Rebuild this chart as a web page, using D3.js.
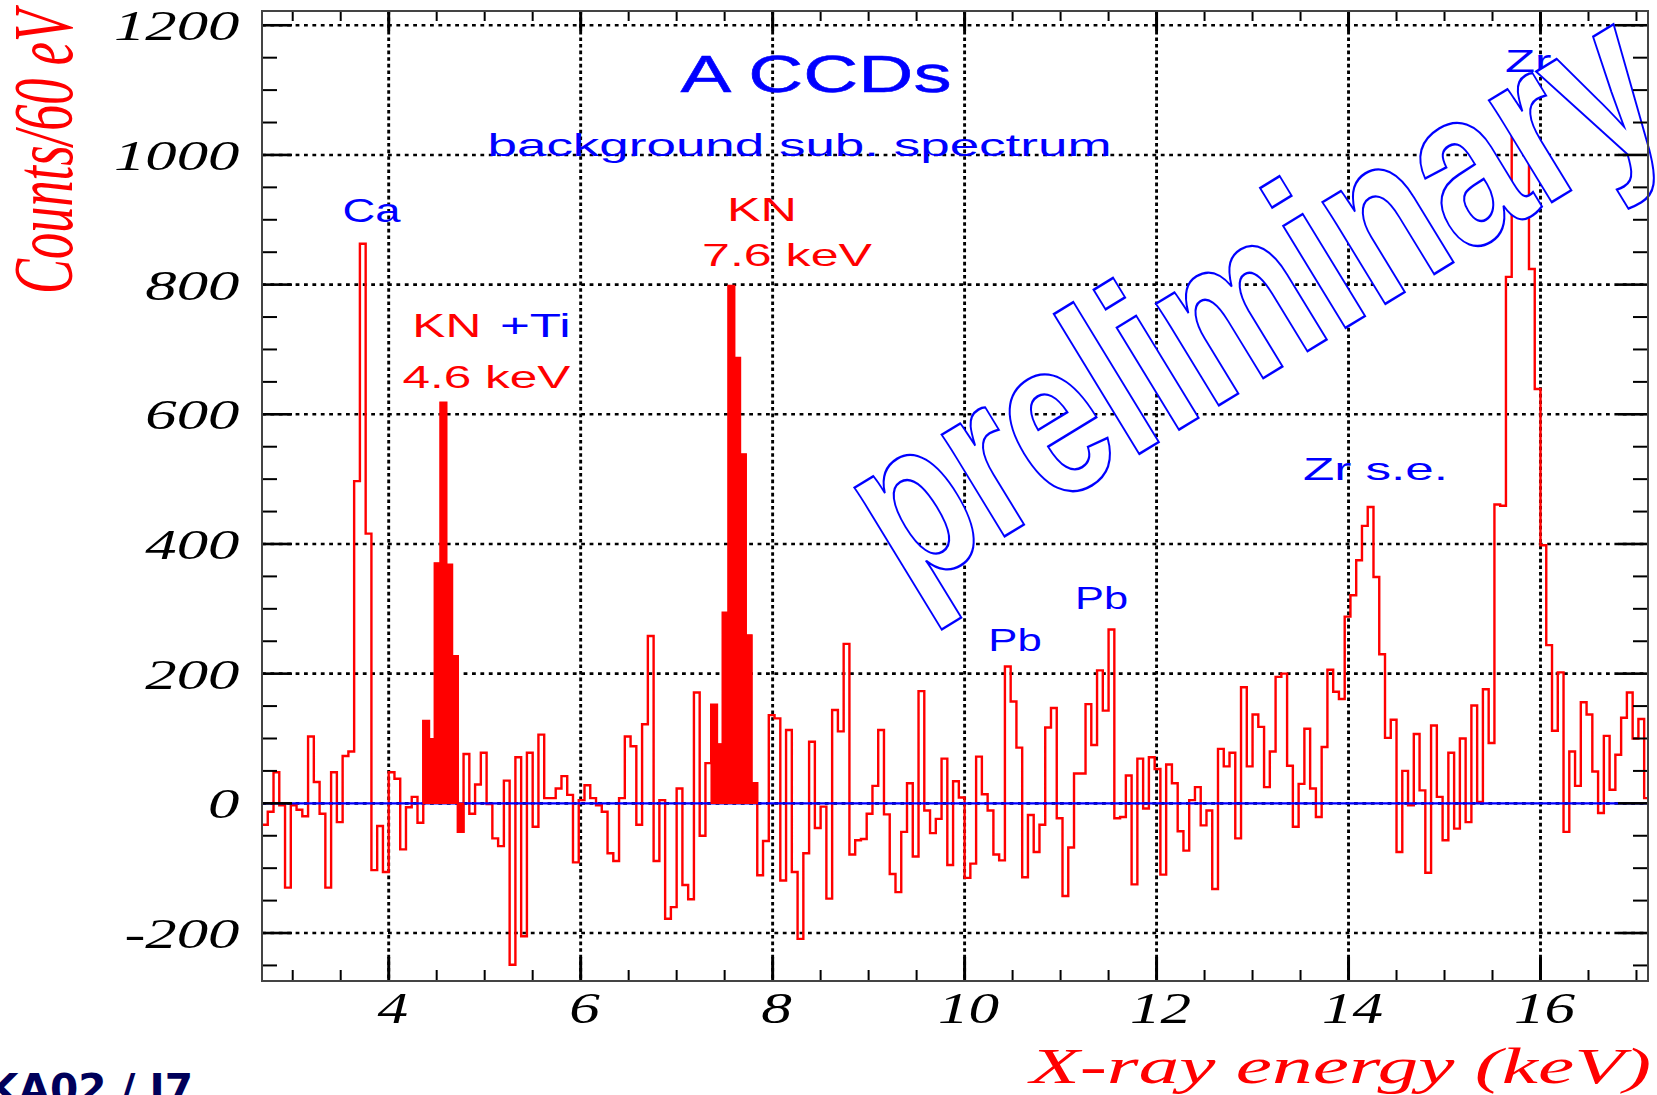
<!DOCTYPE html>
<html><head><meta charset="utf-8">
<script src="https://cdn.jsdelivr.net/npm/d3@7/dist/d3.min.js"></script>
<style>html,body{margin:0;padding:0;background:#fff;overflow:hidden}</style>
</head><body>
<svg id="chart" width="1657" height="1095"></svg>
<script>
// ---- data ----
const binStart = 2.68;   // keV, left edge of first bin
const binWidth = 0.06;   // keV (60 eV)
const counts = [
  -33, -13, 48, -3, -130, -3, -10, -20, 103, 33,
  -16, -130, 48, -29, 73, 80, 497, 863, 416, -103,
  -35, -106, 48, 38, -71, -6, 10, -30, 127, 99,
  370, 618, 368, 227, -44, 76, -16, 29, 78, -1,
  -54, -66, 35, -249, 71, -205, 78, -36, 106, 8,
  8, 23, 42, 13, -91, 5, 28, 8, -3, -13,
  -77, -89, 8, 103, 88, -33, 122, 258, -89, 5,
  -178, -160, 23, -126, -148, 171, -50, 62, 152, 91,
  294, 798, 687, 538, 259, 31, -111, -58, 136, 131,
  -119, 113, -106, -209, -77, 95, -38, -5, -147, 144,
  111, 246, -79, -57, -55, -16, 27, 113, -17, -109,
  -137, -44, 31, -82, 173, -11, -46, -24, 69, -95,
  34, 9, -115, -93, 72, 14, -11, -79, -88, 211,
  157, 86, -114, -18, -75, -33, 117, 147, -23, -143,
  -68, 46, 46, 153, 90, 205, 143, 268, -23, -21,
  43, -125, 69, -8, 71, 53, -110, 60, 31, -43,
  -73, 5, 25, -34, -11, -132, 84, 57, 78, -54,
  179, 57, 137, 118, 25, 80, 195, 200, 58, -36,
  30, 115, 23, -21, 87, 206, 172, 161, 288, 321,
  375, 428, 457, 349, 230, 101, 129, -75, 50, -3,
  107, 20, -107, 120, 10, -57, 78, -39, 100, -29,
  151, 2, 176, 93, 461, 459, 812, 1035, 1050, 1020,
  824, 639, 398, 244, 112, 202, -44, 80, 27, 156,
  137, 49, -15, 104, 21, 75, 132, 171, 100, 130,
  8
];
const filledRanges = [[28, 34], [78, 85]];   // KN+Ti 4.6 keV and KN 7.6 keV bins
const xTickValues = [4, 6, 8, 10, 12, 14, 16];
const yTickValues = [-200, 0, 200, 400, 600, 800, 1000, 1200];
const xDomain = [2.68, 17.12];
const yDomain = [-274, 1222];

const labelTexts = [
  {t: "A CCDs", c: "blue"},
  {t: "background sub. spectrum", c: "blue"},
  {t: "Ca", c: "blue"},
  {t: "KN", c: "red"},
  {t: "7.6 keV", c: "red"},
  {t: "KN", c: "red"},
  {t: "+Ti", c: "blue"},
  {t: "4.6 keV", c: "red"},
  {t: "Pb", c: "blue"},
  {t: "Pb", c: "blue"},
  {t: "Zr s.e.", c: "blue"},
  {t: "Zr", c: "blue"}
];
// positions (left x, baseline y, font size, text length)
const labelPos = [
  [680.5, 92, 52, 271],
  [487.5, 155.5, 30.5, 624],
  [342.5, 221.7, 32.5, 58],
  [727, 221, 33, 70],
  [702, 266, 32, 170],
  [412.3, 337.3, 33, 69],
  [500, 337.3, 33, 70.6],
  [402.4, 388.3, 31, 168],
  [988.3, 650.7, 31.5, 53.4],
  [1075, 609.3, 31.5, 53],
  [1303, 480.4, 32, 145],
  [1505, 71.7, 31.5, 46.5]
];

// ---- layout ----
const L = 262, R = 1648, T = 11, B = 981;
const svg = d3.select("#chart");
const x = d3.scaleLinear().domain(xDomain).range([L, R]);
const y = d3.scaleLinear().domain(yDomain).range([B, T]);

svg.append("defs").append("clipPath").attr("id", "plotclip")
  .append("rect").attr("x", L).attr("y", T).attr("width", R - L).attr("height", B - T);

// grid
const grid = svg.append("g");
grid.selectAll("line.v").data(xTickValues).enter().append("line")
  .attr("x1", d => x(d)).attr("x2", d => x(d)).attr("y1", T).attr("y2", B)
  .attr("stroke", "#000").attr("stroke-width", 2.9).attr("stroke-dasharray", "3.6,3");
grid.selectAll("line.h").data(yTickValues).enter().append("line")
  .attr("x1", L).attr("x2", R).attr("y1", d => y(d)).attr("y2", d => y(d))
  .attr("stroke", "#000").attr("stroke-width", 2.6).attr("stroke-dasharray", "3.8,4.6");

// histogram
const pts = counts.map((v, i) => [binStart + i * binWidth, v]);
pts.push([binStart + counts.length * binWidth, counts[counts.length - 1]]);
const plot = svg.append("g").attr("clip-path", "url(#plotclip)");
const line = d3.line().x(d => x(d[0])).y(d => y(d[1])).curve(d3.curveStepAfter);
plot.append("path").attr("d", line(pts)).attr("fill", "none")
  .attr("stroke", "#ff0000").attr("stroke-width", 2.4);

// zero line
plot.append("line").attr("x1", L).attr("x2", R).attr("y1", y(0)).attr("y2", y(0))
  .attr("stroke", "#0000ff").attr("stroke-width", 2.2);

// filled peaks
const area = d3.area().x(d => x(d[0])).y0(y(0)).y1(d => y(d[1])).curve(d3.curveStepAfter);
filledRanges.forEach(([a, b]) => {
  const seg = [];
  for (let i = a; i <= b; i++) seg.push([binStart + i * binWidth, counts[i]]);
  seg.push([binStart + (b + 1) * binWidth, counts[b]]);
  plot.append("path").attr("d", area(seg)).attr("fill", "#ff0000")
    .attr("stroke", "#ff0000").attr("stroke-width", 1.5);
});

// annotation labels
labelTexts.forEach((lb, i) => {
  const [lx, ly, fs, tl] = labelPos[i];
  const t = svg.append("text").attr("x", lx).attr("y", ly)
    .attr("font-family", "'Liberation Sans', Arial, sans-serif")
    .attr("font-size", fs).attr("fill", lb.c === "blue" ? "#0000ff" : "#ff0000")
    .attr("textLength", tl).attr("lengthAdjust", "spacingAndGlyphs").text(lb.t);
  if (i === 0) t.attr("stroke", "#0000ff").attr("stroke-width", 0.5);
});

// "preliminary" watermark
svg.append("text")
  .attr("transform", "translate(907.2,595.6) rotate(-31.4) scale(0.74,1)")
  .attr("font-family", "'Liberation Sans', Arial, sans-serif")
  .attr("font-weight", "bold").attr("font-size", 226)
  .attr("fill", "#ffffff").attr("stroke", "#0000ff").attr("stroke-width", 2.2)
  .attr("vector-effect", "non-scaling-stroke")
  .style("vector-effect", "non-scaling-stroke")
  .text("preliminary");

// frame & ticks
const ax = svg.append("g").attr("stroke", "#000");
const xMinor = d3.range(3, 17.01, 0.5);
xMinor.forEach(v => {
  const major = xTickValues.includes(v);
  const lenB = major ? 24 : 11, lenT = major ? 20 : 10;
  ax.append("line").attr("x1", x(v)).attr("x2", x(v)).attr("y1", B).attr("y2", B - lenB)
    .attr("stroke-width", major ? 3 : 2);
  ax.append("line").attr("x1", x(v)).attr("x2", x(v)).attr("y1", T).attr("y2", T + lenT)
    .attr("stroke-width", major ? 3 : 2);
});
const yMinor = d3.range(-250, 1201, 50);
yMinor.forEach(v => {
  const major = yTickValues.includes(v);
  const len = major ? 30 : 15;
  ax.append("line").attr("x1", L).attr("x2", L + len).attr("y1", y(v)).attr("y2", y(v))
    .attr("stroke-width", major ? 2.6 : 2);
  ax.append("line").attr("x1", R).attr("x2", R - len).attr("y1", y(v)).attr("y2", y(v))
    .attr("stroke-width", major ? 2.6 : 2);
});
svg.append("rect").attr("x", L).attr("y", T).attr("width", R - L).attr("height", B - T)
  .attr("fill", "none").attr("stroke", "#444").attr("stroke-width", 2);

// tick labels
const serif = "'Liberation Serif', 'Times New Roman', serif";
yTickValues.forEach(v => {
  svg.append("text")
    .attr("transform", `translate(239.5,${y(v) + 15}) scale(1.46,1)`)
    .attr("text-anchor", "end").attr("font-family", serif).attr("font-style", "italic")
    .attr("font-size", 43).attr("fill", "#000").text(String(v));
});
xTickValues.forEach(v => {
  svg.append("text")
    .attr("transform", `translate(${x(v) + 4},1023) scale(1.36,1)`)
    .attr("text-anchor", "middle").attr("font-family", serif).attr("font-style", "italic")
    .attr("font-size", 45).attr("fill", "#000").text(String(v));
});

// axis titles
svg.append("text").attr("transform", "translate(71.7,294) rotate(-90)")
  .attr("font-family", serif).attr("font-style", "italic").attr("font-size", 85.6)
  .attr("fill", "#ff0000").attr("textLength", 284).attr("lengthAdjust", "spacingAndGlyphs")
  .text("Counts/60 eV");
svg.append("text").attr("x", 1030).attr("y", 1083)
  .attr("font-family", serif).attr("font-style", "italic").attr("font-size", 50.5)
  .attr("fill", "#ff0000").attr("textLength", 621).attr("lengthAdjust", "spacingAndGlyphs")
  .text("X-ray energy (keV)");

// footer code (partly cut off)
svg.append("text").attr("x", -13).attr("y", 1103)
  .attr("font-family", "'DejaVu Sans', sans-serif").attr("font-weight", "bold")
  .attr("font-size", 40).attr("fill", "#00005a")
  .attr("textLength", 206).attr("lengthAdjust", "spacingAndGlyphs")
  .text("KA02 / J7");
</script>
</body></html>
